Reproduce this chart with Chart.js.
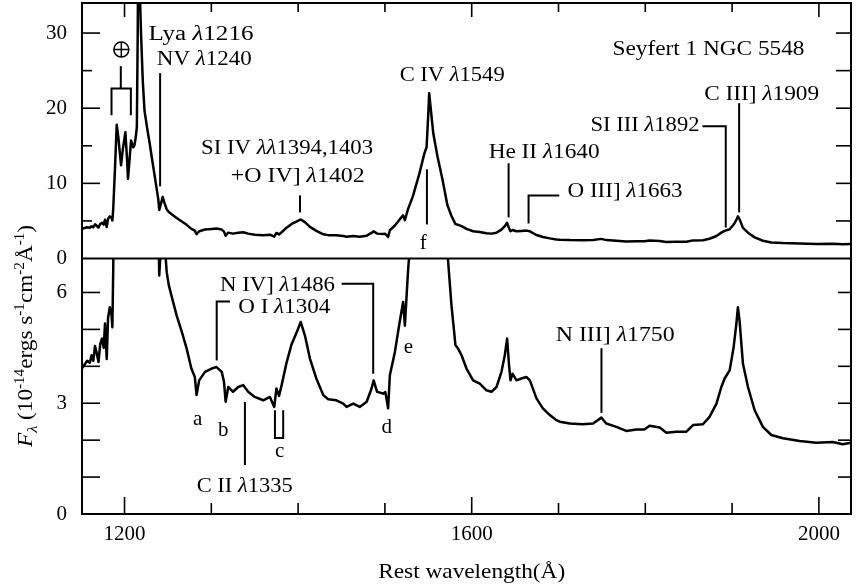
<!DOCTYPE html>
<html><head><meta charset="utf-8">
<script src="https://cdn.jsdelivr.net/npm/chart.js@4.4.1/dist/chart.umd.min.js"></script>
<style>html,body{margin:0;padding:0;background:#fff;}#wrap{width:856px;height:588px;}</style>
</head><body><div id="wrap"><canvas id="c" width="856" height="588"></canvas></div>
<script>
// ---- data (rest wavelength in Å, flux in 1e-14 erg/s/cm2/Å)
const wavelength = [1151,1154,1157,1160,1162,1164,1166,1168,1170,1172,1174,1176,1177.5,1179.5,1181,1183,1185,1186,1187,1189,1191,1193,1196,1198,1201,1203,1204,1206,1207.5,1210,1211.5,1213,1214.2,1215.2,1216,1217,1219,1221,1223,1226,1229,1232,1235,1237,1239,1240,1242,1244,1246,1248.6,1251,1254,1260,1266,1271.6,1277,1281,1283,1286,1292.7,1300.4,1306,1312,1314.6,1316.5,1319.5,1325,1331,1336.8,1342.5,1350,1359.8,1367.5,1372.5,1375,1378,1381,1386.7,1392.5,1398,1403,1407.8,1413.6,1421,1429,1434.7,1444,1452,1455.8,1463.5,1471,1479,1484.6,1487,1491,1498,1500.5,1503.7,1505.7,1511.5,1517,1521,1523,1525,1526.8,1532,1539.7,1545.4,1548,1550,1551,1553,1555.8,1560.7,1566.5,1572,1576.7,1581.3,1584.3,1588.3,1594,1601.6,1609.3,1617,1622.8,1628.6,1634.3,1638.1,1640.8,1643,1644.7,1647,1651.6,1657.3,1663,1667,1674.6,1682,1690,1697.6,1701.4,1713,1728,1739.8,1749.4,1755,1766.7,1778,1789.7,1799,1805,1816.6,1824.3,1835.8,1847.3,1855,1866.4,1874,1882,1887.6,1891.4,1897.2,1901.8,1904.9,1906.7,1908.6,1912.5,1918.3,1926,1935.5,1945.2,1958.6,1977.8,1997,2016,2027.6,2037];
const flux = [3.95,4.05,4.15,4.1,4.3,4.15,4.55,4.35,4.12,4.6,4.75,4.5,5.16,4.2,5.3,5.6,5.4,5.06,6.65,12,17.8,16,12.4,14.5,16.8,13,10.6,13.5,15.7,14.8,15.1,16.2,17.5,30,46,38,30,23.7,19.7,17.4,15.3,13,10.8,9.3,7.8,6.46,7.3,8.2,7.4,6.55,6.2,5.92,5.38,4.93,4.48,3.94,3.71,3.22,3.62,3.85,3.94,3.98,3.85,3.58,3.04,3.44,3.31,3.44,3.49,3.31,3.17,3.08,3.17,2.9,3.4,3.2,3.49,4.1,4.6,4.9,5.2,4.84,4.21,3.67,3.22,3.11,3.08,2.99,2.9,2.99,2.9,3.04,3.4,3.62,3.31,3.26,3.3,2.86,3.76,4.39,5.2,5.74,5.1,5.92,6.64,8.2,11.3,13.96,14.8,19.3,22.0,19.7,16.6,13.5,10.4,7.1,5.65,4.57,4.48,4.3,3.94,3.62,3.53,3.35,3.31,3.44,3.85,4.3,4.75,4.03,3.62,3.8,3.62,3.67,3.71,3.62,3.13,2.86,2.68,2.54,2.5,2.45,2.43,2.45,2.61,2.45,2.36,2.25,2.29,2.29,2.39,2.34,2.2,2.23,2.23,2.41,2.43,2.63,2.99,3.44,3.67,3.89,4.52,5.15,5.6,5.24,4.07,3.44,2.81,2.36,2.14,2.05,1.98,1.93,1.95,1.89,1.93];

// ---- axis ticks
const xMajorTicks = [1200, 1600, 2000];
const xMinorTicks = [1200, 1300, 1400, 1500, 1600, 1700, 1800, 1900, 2000];
const topLabelTicks = [0, 10, 20, 30];
const topMinorTicks = [5, 10, 15, 20, 25, 30];
const botLabelTicks = [0, 3, 6];
const botMinorTicks = [1, 2, 3, 4, 5, 6];
const xRange = [1151, 2037];
const topRange = [0, 34];
const botRange = [0, 6.92];

// ---- annotations (data coordinates)
const topLabels = [
  ['Lya λ1216', 1227.6, 29.07, 105],
  ['NV λ1240', 1237.2, 25.73, 95],
  ['SI IV λλ1394,1403', 1288.2, 13.87, 172],
  ['+O IV] λ1402', 1322.4, 10.13, 134],
  ['C IV λ1549', 1517, 23.6, 105],
  ['f', 1540, 1.33, 0],
  ['He II λ1640', 1619.5, 13.33, 111],
  ['O III] λ1663', 1710.4, 8.13, 115],
  ['Seyfert 1 NGC 5548', 1762.2, 27.07, 192],
  ['C III] λ1909', 1867.8, 21.07, 115],
  ['SI III λ1892', 1736.9, 16.93, 109]
];
const topLines = [
  [[1195.7, 25.6], [1195.7, 22.63]],
  [[1185, 19.07], [1185, 22.63], [1207.3, 22.63], [1207.3, 19.07]],
  [[1241, 24.67], [1241, 9.6]],
  [[1402.2, 8.4], [1402.2, 6.13]],
  [[1548.4, 11.87], [1548.4, 4.53]],
  [[1642.5, 12.67], [1642.5, 5.47]],
  [[1700.9, 8.4], [1665.5, 8.4], [1665.5, 4.67]],
  [[1908.1, 20.67], [1908.1, 6.13]],
  [[1865.9, 17.6], [1892.7, 17.6], [1892.7, 4.13]]
];
const earthSymbol = [1196.3, 27.8];
const botLabels = [
  ['N IV] λ1486', 1310, 6.05, 115],
  ['O I λ1304', 1331, 5.44, 92],
  ['a', 1278.9, 2.41, 0],
  ['b', 1307.7, 2.11, 0],
  ['C II λ1335', 1283.1, 0.603, 96],
  ['c', 1373.3, 1.55, 0],
  ['d', 1496.1, 2.19, 0],
  ['e', 1521.8, 4.35, 0],
  ['N III] λ1750', 1696.8, 4.68, 119]
];
const botLines = [
  [[1450.1, 6.235], [1486.5, 6.235], [1486.5, 3.80]],
  [[1321.5, 5.757], [1306.2, 5.757], [1306.2, 4.16]],
  [[1338.7, 3.035], [1338.7, 1.324]],
  [[1373.3, 2.81], [1373.3, 2.06], [1382.8, 2.06], [1382.8, 2.81]],
  [[1749.5, 4.49], [1749.5, 2.74]]
];

const SERIF = "'Liberation Serif','Times New Roman',serif";

function fontStr(it, size) { return (it ? 'italic ' : '') + size + 'px ' + SERIF; }
function parseLabel(s) {
  const segs = []; let cur = '';
  for (const ch of s) {
    if (ch === 'λ') { if (cur) segs.push({t: cur}); cur = ''; segs.push({t: 'λ', it: true}); }
    else cur += ch;
  }
  if (cur) segs.push({t: cur});
  return segs;
}
function drawRich(ctx, segs, x, y, size, targetW, align) {
  let total = 0;
  const ws = segs.map(sg => { ctx.font = fontStr(sg.it, size * (sg.s || 1)); const w = ctx.measureText(sg.t).width; total += w; return w; });
  const sx = targetW ? targetW / total : 1;
  ctx.save();
  ctx.translate(x, y);
  ctx.scale(sx, 1);
  let cx = align === 'center' ? -total / 2 : 0;
  ctx.textAlign = 'left';
  ctx.textBaseline = 'alphabetic';
  segs.forEach((sg, i) => {
    ctx.font = fontStr(sg.it, size * (sg.s || 1));
    ctx.fillText(sg.t, cx, (sg.dy || 0) * size);
    cx += ws[i];
  });
  ctx.restore();
}
function polyline(ctx, xs, ys, pts) {
  ctx.beginPath();
  pts.forEach((p, i) => {
    const px = xs.getPixelForValue(p[0]), py = ys.getPixelForValue(p[1]);
    if (i === 0) ctx.moveTo(px, py); else ctx.lineTo(px, py);
  });
  ctx.stroke();
}

const panelClip = {
  id: 'panelClip',
  beforeDatasetDraw(chart, args) {
    const ys = chart.scales[args.meta.yAxisID], xs = chart.scales.x, ctx = chart.ctx;
    ctx.save();
    ctx.beginPath();
    ctx.rect(xs.left, ys.top, xs.right - xs.left, ys.bottom - ys.top);
    ctx.clip();
  },
  afterDatasetDraw(chart) { chart.ctx.restore(); }
};

const decor = {
  id: 'decor',
  afterDraw(chart) {
    const ctx = chart.ctx, xs = chart.scales.x, yt = chart.scales.yTop, yb = chart.scales.yBot;
    const L = xs.left, R = xs.right, T = yt.top, B = yb.bottom, M = yt.bottom;
    ctx.save();
    ctx.strokeStyle = '#000'; ctx.fillStyle = '#000'; ctx.lineCap = 'butt';
    // frame
    ctx.lineWidth = 2;
    ctx.strokeRect(L, T, R - L, B - T);
    ctx.beginPath(); ctx.moveTo(L, M); ctx.lineTo(R, M); ctx.stroke();
    // x ticks
    ctx.lineWidth = 1.6;
    xMinorTicks.forEach(v => {
      const x = xs.getPixelForValue(v), maj = xMajorTicks.includes(v);
      ctx.beginPath(); ctx.moveTo(x, B); ctx.lineTo(x, B - (maj ? 17 : 11)); ctx.stroke();
      ctx.beginPath(); ctx.moveTo(x, T); ctx.lineTo(x, T + (maj ? 14 : 9)); ctx.stroke();
    });
    topMinorTicks.forEach(v => {
      const y = yt.getPixelForValue(v), maj = topLabelTicks.includes(v);
      ctx.beginPath(); ctx.moveTo(L, y); ctx.lineTo(L + (maj ? 18 : 10), y); ctx.stroke();
      ctx.beginPath(); ctx.moveTo(R, y); ctx.lineTo(R - 15, y); ctx.stroke();
    });
    botMinorTicks.forEach(v => {
      const y = yb.getPixelForValue(v);
      ctx.beginPath(); ctx.moveTo(L, y); ctx.lineTo(L + 18, y); ctx.stroke();
      ctx.beginPath(); ctx.moveTo(R, y); ctx.lineTo(R - 13, y); ctx.stroke();
    });
    // annotation lines
    ctx.lineWidth = 2;
    topLines.forEach(p => polyline(ctx, xs, yt, p));
    botLines.forEach(p => polyline(ctx, xs, yb, p));
    // earth symbol
    const ex = xs.getPixelForValue(earthSymbol[0]), ey = yt.getPixelForValue(earthSymbol[1]);
    ctx.lineWidth = 1.5;
    ctx.beginPath(); ctx.arc(ex, ey, 7.5, 0, Math.PI * 2); ctx.stroke();
    ctx.beginPath(); ctx.moveTo(ex - 7.5, ey); ctx.lineTo(ex + 7.5, ey); ctx.moveTo(ex, ey - 7.5); ctx.lineTo(ex, ey + 7.5); ctx.stroke();
    // annotation texts
    topLabels.forEach(a => drawRich(ctx, parseLabel(a[0]), xs.getPixelForValue(a[1]), yt.getPixelForValue(a[2]), a[3] ? 20 : 21, a[3]));
    botLabels.forEach(a => drawRich(ctx, parseLabel(a[0]), xs.getPixelForValue(a[1]), yb.getPixelForValue(a[2]), a[3] ? 20 : 21, a[3]));
    // axis titles
    drawRich(ctx, [{t: 'Rest wavelength(Å)'}], xs.getPixelForValue(1600), 578, 22, 187, 'center');
    ctx.save();
    ctx.translate(32, 336);
    ctx.rotate(-Math.PI / 2);
    drawRich(ctx, [
      {t: 'F', it: true}, {t: 'λ', it: true, s: 0.7, dy: 0.25}, {t: ' (10'},
      {t: '-14', s: 0.65, dy: -0.4}, {t: 'ergs s'}, {t: '-1', s: 0.65, dy: -0.4},
      {t: 'cm'}, {t: '-2', s: 0.65, dy: -0.4}, {t: 'Å'}, {t: '-1', s: 0.65, dy: -0.4}, {t: ')'}
    ], 0, 0, 21, 222, 'center');
    ctx.restore();
    ctx.restore();
  }
};

const mk = () => wavelength.map((w, i) => ({x: w, y: flux[i]}));
const tickFont = {family: SERIF, size: 21};
const fitY = s => { s.width = 82; s.paddingTop = 0; s.paddingBottom = 0; };
new Chart(document.getElementById('c'), {
  type: 'line',
  data: {
    datasets: [
      {label: 'top', data: mk(), xAxisID: 'x', yAxisID: 'yTop', borderColor: '#000', borderWidth: 2.5, pointRadius: 0, fill: false, tension: 0, borderJoinStyle: 'round'},
      {label: 'bottom', data: mk(), xAxisID: 'x', yAxisID: 'yBot', borderColor: '#000', borderWidth: 2.5, pointRadius: 0, fill: false, tension: 0, borderJoinStyle: 'round'}
    ]
  },
  options: {
    responsive: false, animation: false, devicePixelRatio: 1,
    layout: {padding: {top: 3, right: 5, left: 0, bottom: 0}},
    plugins: {legend: {display: false}, tooltip: {enabled: false}},
    scales: {
      x: {
        type: 'linear', position: 'bottom', min: xRange[0], max: xRange[1],
        afterBuildTicks: s => { s.ticks = xMajorTicks.map(v => ({value: v})); },
        afterFit: s => { s.height = 74; s.paddingLeft = 0; s.paddingRight = 0; },
        grid: {display: false, drawTicks: false}, border: {display: false},
        ticks: {font: tickFont, color: '#000', padding: 8, maxRotation: 0, autoSkip: false, callback: v => String(v)}
      },
      yTop: {
        type: 'linear', position: 'left', stack: 'panels', stackWeight: 1, weight: 2,
        min: topRange[0], max: topRange[1],
        afterBuildTicks: s => { s.ticks = topLabelTicks.map(v => ({value: v})); },
        afterFit: fitY,
        grid: {display: false, drawTicks: false}, border: {display: false},
        ticks: {font: tickFont, color: '#000', padding: 15, autoSkip: false, callback: v => String(v)}
      },
      yBot: {
        type: 'linear', position: 'left', stack: 'panels', stackWeight: 1, weight: 1,
        min: botRange[0], max: botRange[1],
        afterBuildTicks: s => { s.ticks = botLabelTicks.map(v => ({value: v})); },
        afterFit: fitY,
        grid: {display: false, drawTicks: false}, border: {display: false},
        ticks: {font: tickFont, color: '#000', padding: 15, autoSkip: false, callback: v => String(v)}
      }
    }
  },
  plugins: [panelClip, decor]
});
</script></body></html>
